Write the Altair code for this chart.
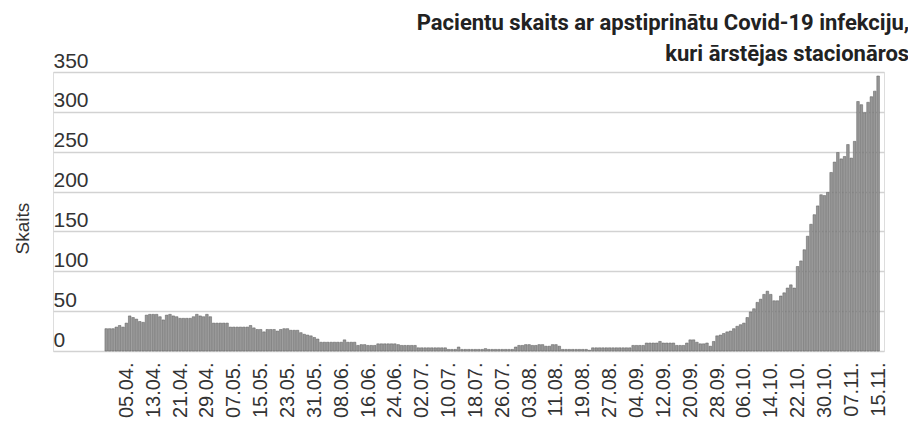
import altair as alt
import pandas as pd
from datetime import date, timedelta

# daily number of hospitalised Covid-19 patients, starting 30.03.
start = date(2020, 3, 30)
values = [
    28, 28, 28, 30, 32, 30, 35, 44, 42, 40,
    37, 36, 45, 46, 46, 46, 43, 39, 45, 46,
    44, 43, 41, 41, 41, 41, 43, 46, 44, 43,
    46, 43, 35, 35, 35, 35, 35, 30, 30, 30,
    30, 30, 30, 32, 29, 27, 27, 24, 27, 27,
    27, 25, 27, 28, 28, 26, 26, 26, 23, 21,
    20, 19, 17, 15, 11, 11, 11, 11, 11, 11,
    11, 14, 11, 11, 11, 7, 8, 8, 7, 7,
    7, 9, 9, 9, 9, 9, 9, 8, 7, 7,
    7, 7, 7, 4, 4, 4, 4, 4, 4, 4,
    4, 4, 2, 2, 2, 5, 2, 2, 2, 2,
    2, 2, 2, 3, 2, 2, 2, 2, 2, 2,
    2, 2, 5, 7, 7, 8, 8, 7, 7, 8,
    8, 6, 6, 8, 8, 6, 2, 2, 2, 2,
    2, 2, 2, 2, 1, 4, 4, 4, 4, 4,
    4, 4, 4, 4, 4, 4, 4, 7, 7, 7,
    7, 10, 10, 10, 10, 12, 10, 10, 10, 10,
    7, 7, 7, 10, 14, 14, 11, 9, 9, 10,
    6, 12, 19, 20, 22, 24, 25, 28, 31, 33,
    35, 42, 49, 53, 61, 65, 71, 75, 71, 63,
    63, 69, 73, 79, 83, 79, 106, 113, 127, 144,
    159, 171, 182, 196, 195, 199, 224, 237, 249, 241,
    244, 259, 242, 263, 313, 309, 299, 312, 319, 326,
    345,
]

tick_labels = [
    "05.04.", "13.04.", "21.04.", "29.04.", "07.05.", "15.05.", "23.05.",
    "31.05.", "08.06.", "16.06.", "24.06.", "02.07.", "10.07.", "18.07.",
    "26.07.", "03.08.", "11.08.", "19.08.", "27.08.", "04.09.", "12.09.",
    "20.09.", "28.09.", "06.10.", "14.10.", "22.10.", "30.10.", "07.11.",
    "15.11.",
]
tick_days = [6 + 8 * k for k in range(len(tick_labels))]
y_ticks = [0, 50, 100, 150, 200, 250, 300, 350]

title_lines = [
    "Pacientu skaits ar apstiprinātu Covid-19 infekciju,",
    "kuri ārstējas stacionāros",
]

days = list(range(len(values)))
dates = [(start + timedelta(days=d)).strftime("%d.%m.") for d in days]
df = pd.DataFrame({"day": days, "datums": dates, "Skaits": values})

label_expr = "[" + ",".join("'" + t + "'" for t in tick_labels) + "][round((datum.value - 6) / 8)]"

chart = (
    alt.Chart(df)
    .mark_bar(size=2.6, color="#979797", stroke="#5a5a5a", strokeWidth=0.5)
    .encode(
        x=alt.X(
            "day:Q",
            scale=alt.Scale(domain=[-14.37, 230.26], nice=False, zero=False),
            axis=alt.Axis(
                values=tick_days,
                labelExpr=label_expr,
                labelAngle=270,
                labelFontSize=20,
                labelFont="Liberation Sans",
                labelColor="#333333",
                labelPadding=11,
                labelOverlap=False,
                labelFlush=False,
                ticks=False,
                domain=False,
                grid=False,
                title=None,
            ),
        ),
        y=alt.Y(
            "Skaits:Q",
            scale=alt.Scale(domain=[0, 350], nice=False),
            axis=alt.Axis(
                values=y_ticks,
                title="Skaits",
                titleFont="Liberation Sans",
                titleFontSize=19,
                titleFontWeight="normal",
                titleColor="#333333",
                titleAngle=270,
                titleAlign="center",
                titleBaseline="middle",
                titleX=-31,
                titleY=156,
                labelAlign="left",
                labelBaseline="alphabetic",
                labelPadding=0,
                labelOffset=-5,
                labelFontSize=21,
                labelFont="Liberation Sans",
                labelColor="#333333",
                ticks=False,
                domain=False,
                grid=True,
                gridColor="#d2d2d2",
                gridWidth=1.5,
            ),
        ),
        tooltip=["datums:N", "Skaits:Q"],
    )
    .properties(
        width=831,
        height=279,
        autosize=alt.AutoSizeParams(type="none"),
        padding={"left": 45, "top": 64, "right": 24, "bottom": 80},
        title=alt.TitleParams(
            text=title_lines,
            anchor="end",
            font="Roboto",
            fontSize=22,
            fontWeight="bold",
            color="#222222",
            lineHeight=31,
            offset=0,
            dx=21,
            dy=16,
        ),
    )
    .configure_view(stroke=None)
    .configure(background="white")
)

chart.save("out.html", embed_options={"renderer": "svg", "actions": False})
